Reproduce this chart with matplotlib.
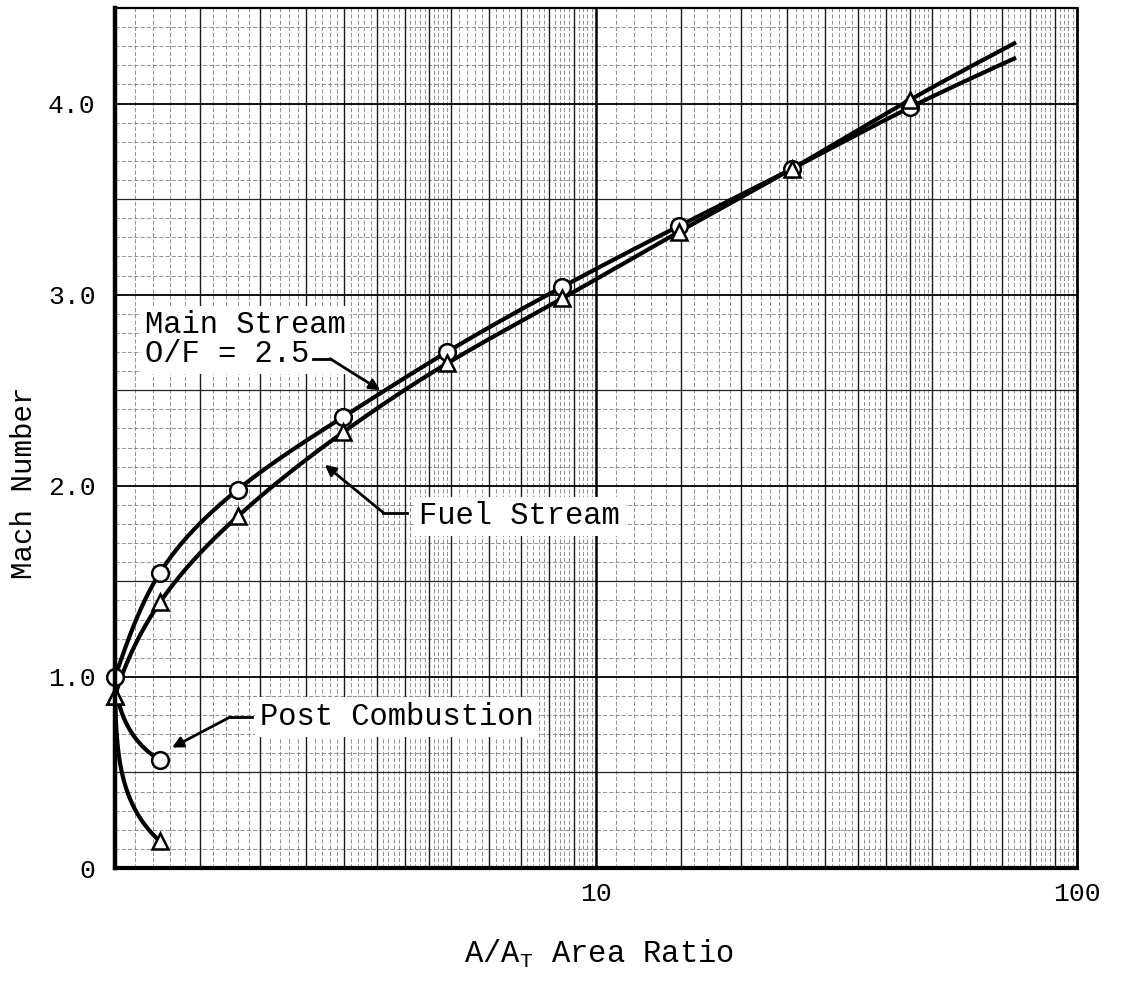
import numpy as np
import matplotlib
matplotlib.use("Agg")
import matplotlib.pyplot as plt
from matplotlib.ticker import FixedLocator, NullLocator

# ---------------- data ----------------
area_main = [1.0, 1.24, 1.80, 2.98, 4.9, 8.5, 14.9, 25.6, 45.0]
mach_main = [1.0, 1.545, 1.98, 2.36, 2.70, 3.04, 3.36, 3.66, 3.98]

area_fuel = [1.0, 1.24, 1.80, 2.98, 4.9, 8.5, 14.9, 25.6, 45.0]
mach_fuel = [0.90, 1.39, 1.84, 2.28, 2.64, 2.98, 3.33, 3.66, 4.02]

# where the drawn curves stop (no marker)
curve_end_area = 74.7
curve_end_main = 4.24
curve_end_fuel = 4.32

area_post = [1.0, 1.24]
mach_post_main = [1.0, 0.565]
mach_post_fuel = [0.90, 0.14]

x_ticks = [10, 100]
x_tick_labels = ["10", "100"]
y_ticks = [0, 1, 2, 3, 4]
y_tick_labels = ["0", "1.0", "2.0", "3.0", "4.0"]

# ---------------- helpers ----------------
K = 481.0 / 191.0   # pixel aspect: one decade vs one Mach unit


def _spline_coeffs(t, f, d0=None, d1=None):
    n = len(t)
    h = np.diff(t)
    A = np.zeros((n, n))
    b = np.zeros(n)
    for i in range(1, n - 1):
        A[i, i - 1] = h[i - 1]
        A[i, i] = 2 * (h[i - 1] + h[i])
        A[i, i + 1] = h[i]
        b[i] = 6 * ((f[i + 1] - f[i]) / h[i] - (f[i] - f[i - 1]) / h[i - 1])
    if d0 is None:
        A[0, 0] = 1.0
    else:
        A[0, 0] = 2 * h[0]
        A[0, 1] = h[0]
        b[0] = 6 * ((f[1] - f[0]) / h[0] - d0)
    if d1 is None:
        A[-1, -1] = 1.0
    else:
        A[-1, -2] = h[-1]
        A[-1, -1] = 2 * h[-1]
        b[-1] = 6 * (d1 - (f[-1] - f[-2]) / h[-1])
    return np.linalg.solve(A, b)


def _spline_eval(t, f, M, tt):
    out = np.empty_like(tt)
    idx = np.clip(np.searchsorted(t, tt) - 1, 0, len(t) - 2)
    for k, (ti, i) in enumerate(zip(tt, idx)):
        h = t[i + 1] - t[i]
        a = t[i + 1] - ti
        c = ti - t[i]
        out[k] = (M[i] * a ** 3 / (6 * h) + M[i + 1] * c ** 3 / (6 * h)
                  + (f[i] / h - M[i] * h / 6) * a
                  + (f[i + 1] / h - M[i + 1] * h / 6) * c)
    return out


def smooth_curve(xs, ys, start_dir=None, end_dir=None, gain=1.0, n=400):
    u = np.log10(np.asarray(xs, float)) * K
    v = np.asarray(ys, float)
    t = np.concatenate([[0], np.cumsum(np.hypot(np.diff(u), np.diff(v)))])
    du0 = dv0 = du1 = dv1 = None
    if start_dir is not None:
        d = np.array(start_dir, float)
        d = d / np.hypot(*d) * gain
        du0, dv0 = d
    if end_dir is not None:
        d = np.array(end_dir, float)
        d = d / np.hypot(*d) * gain
        du1, dv1 = d
    Mu = _spline_coeffs(t, u, du0, du1)
    Mv = _spline_coeffs(t, v, dv0, dv1)
    tt = np.linspace(0, t[-1], n)
    uu = _spline_eval(t, u, Mu, tt)
    vv = _spline_eval(t, v, Mv, tt)
    return 10 ** (uu / K), vv


# ---------------- figure ----------------
plt.rcParams["font.family"] = ["Liberation Mono", "DejaVu Sans Mono"]
plt.rcParams["mathtext.fontset"] = "custom"
plt.rcParams["mathtext.rm"] = "Liberation Mono"
plt.rcParams["mathtext.it"] = "Liberation Mono"

W, H = 1123, 982
fig = plt.figure(figsize=(W / 100, H / 100), dpi=100)
px_l, px_r, px_t, px_b = 115, 1077, 8, 868
ax = fig.add_axes([px_l / W, 1 - px_b / H, (px_r - px_l) / W, (px_b - px_t) / H])
ax.set_xscale("log")
ax.set_xlim(1, 100)
ax.set_ylim(0, 4.5)

# ---- graph-paper grid ----
ymax = 4.5
medium_x = [1.5, 2, 2.5, 3, 3.5, 4, 4.5, 5, 6, 7, 8, 9]
light_x = [v for v in np.round(np.arange(1.1, 5.0, 0.1), 2)
           if not np.isclose(v % 0.5, 0) and not np.isclose(v % 0.5, 0.5)]
light_x += [v for v in np.round(np.arange(5.2, 10.0, 0.2), 2) if not np.isclose(v, round(v))]
for dec in (1, 10):
    ax.vlines([dec * v for v in light_x], 0, ymax, colors="0.5", lw=0.6,
              linestyles=(0, (5, 2.5)), zorder=0.5)
    ax.vlines([dec * v for v in medium_x], 0, ymax, colors="0.1", lw=1.0, zorder=0.7)
ax.vlines([10], 0, ymax, colors="k", lw=1.8, zorder=0.8)

light_y = [v for v in np.round(np.arange(0.1, 4.5, 0.1), 2)
           if not np.isclose((v * 10) % 5, 0)]
ax.hlines(light_y, 1, 100, colors="0.5", lw=0.6, linestyles=(0, (5, 2.5)), zorder=0.5)
ax.hlines([0.5, 1.5, 2.5, 3.5], 1, 100, colors="0.15", lw=0.9, zorder=0.7)
ax.hlines([1, 2, 3, 4], 1, 100, colors="k", lw=1.3, zorder=0.8)

# ---- spines / ticks ----
for side, lw in (("left", 3.2), ("bottom", 3.0), ("top", 1.6), ("right", 2.0)):
    ax.spines[side].set_linewidth(lw)
    ax.spines[side].set_zorder(6)
ax.xaxis.set_major_locator(FixedLocator(x_ticks))
ax.xaxis.set_minor_locator(NullLocator())
ax.set_xticklabels(x_tick_labels)
ax.yaxis.set_major_locator(FixedLocator(y_ticks))
ax.set_yticklabels(y_tick_labels)
ax.tick_params(axis="both", length=0, labelsize=19)
ax.tick_params(axis="x", pad=10)
ax.tick_params(axis="y", pad=14)

ax.set_ylabel("Mach Number", fontsize=21)
ax.yaxis.label.set_verticalalignment("baseline")
ax.yaxis.set_label_coords((32 - px_l) / (px_r - px_l), (px_b - 483) / (px_b - px_t))
ax.set_xlabel(r"A/A$_{\mathrm{T}}$ Area Ratio", fontsize=22)
ax.xaxis.label.set_verticalalignment("baseline")
ax.xaxis.set_label_coords((599 - px_l) / (px_r - px_l), (px_b - 963) / (px_b - px_t))

# ---- curves ----
curve_kw = dict(color="k", lw=3.0, solid_capstyle="butt", zorder=4, clip_on=False)
mx, my = smooth_curve(area_main + [curve_end_area], mach_main + [curve_end_main],
                      start_dir=(0.35, 1.0))
ax.plot(mx, my, **curve_kw)
fx, fy = smooth_curve(area_fuel + [curve_end_area], mach_fuel + [curve_end_fuel],
                      start_dir=(0.30, 1.0))
ax.plot(fx, fy, **curve_kw)
px_, py_ = smooth_curve(area_post, mach_post_main, start_dir=(0.05, -1.0),
                        end_dir=(1.0, -0.6), gain=1.1)
ax.plot(px_, py_, **curve_kw)
qx, qy = smooth_curve(area_post, mach_post_fuel, start_dir=(0.03, -1.0),
                      end_dir=(1.0, -0.9), gain=1.1)
ax.plot(qx, qy, **curve_kw)

mk_kw = dict(ls="none", mfc="white", mec="k", mew=1.8, ms=12, zorder=5, clip_on=False)
ax.plot(area_main, mach_main, marker="o", **mk_kw)
ax.plot(area_fuel, mach_fuel, marker="^", **mk_kw)
ax.plot(area_post[1:], mach_post_main[1:], marker="o", **mk_kw)
ax.plot(area_post, mach_post_fuel, marker="^", **mk_kw)

# ---- labels with leaders ----
box = dict(boxstyle="square,pad=0.15", fc="white", ec="none")
ax.text(1.155, 2.765, "Main Stream\nO/F = 2.5", fontsize=22, ha="left", va="center",
        linespacing=0.95, bbox=box, zorder=3)
ax.text(4.29, 1.84, "Fuel Stream", fontsize=22, ha="left", va="center", bbox=box, zorder=3)
ax.text(2.0, 0.79, "Post Combustion", fontsize=22, ha="left", va="center", bbox=box, zorder=3)

lead_kw = dict(color="k", lw=2.0, zorder=4)
arrow_kw = dict(arrowstyle="-|>", color="k", lw=2.0, mutation_scale=16,
                shrinkA=0, shrinkB=0)
# main stream leader
ax.plot([2.58, 2.80], [2.665, 2.665], **lead_kw)
ax.annotate("", xy=(3.56, 2.50), xytext=(2.80, 2.665), arrowprops=arrow_kw, zorder=4)
# fuel stream leader
ax.plot([3.61, 4.05], [1.86, 1.86], **lead_kw)
ax.annotate("", xy=(2.73, 2.11), xytext=(3.61, 1.86), arrowprops=arrow_kw, zorder=4)
# post combustion leader
ax.plot([1.735, 1.93], [0.79, 0.79], **lead_kw)
ax.annotate("", xy=(1.314, 0.63), xytext=(1.735, 0.79), arrowprops=arrow_kw, zorder=4)

fig.savefig("out.png", dpi=100, facecolor="white")
